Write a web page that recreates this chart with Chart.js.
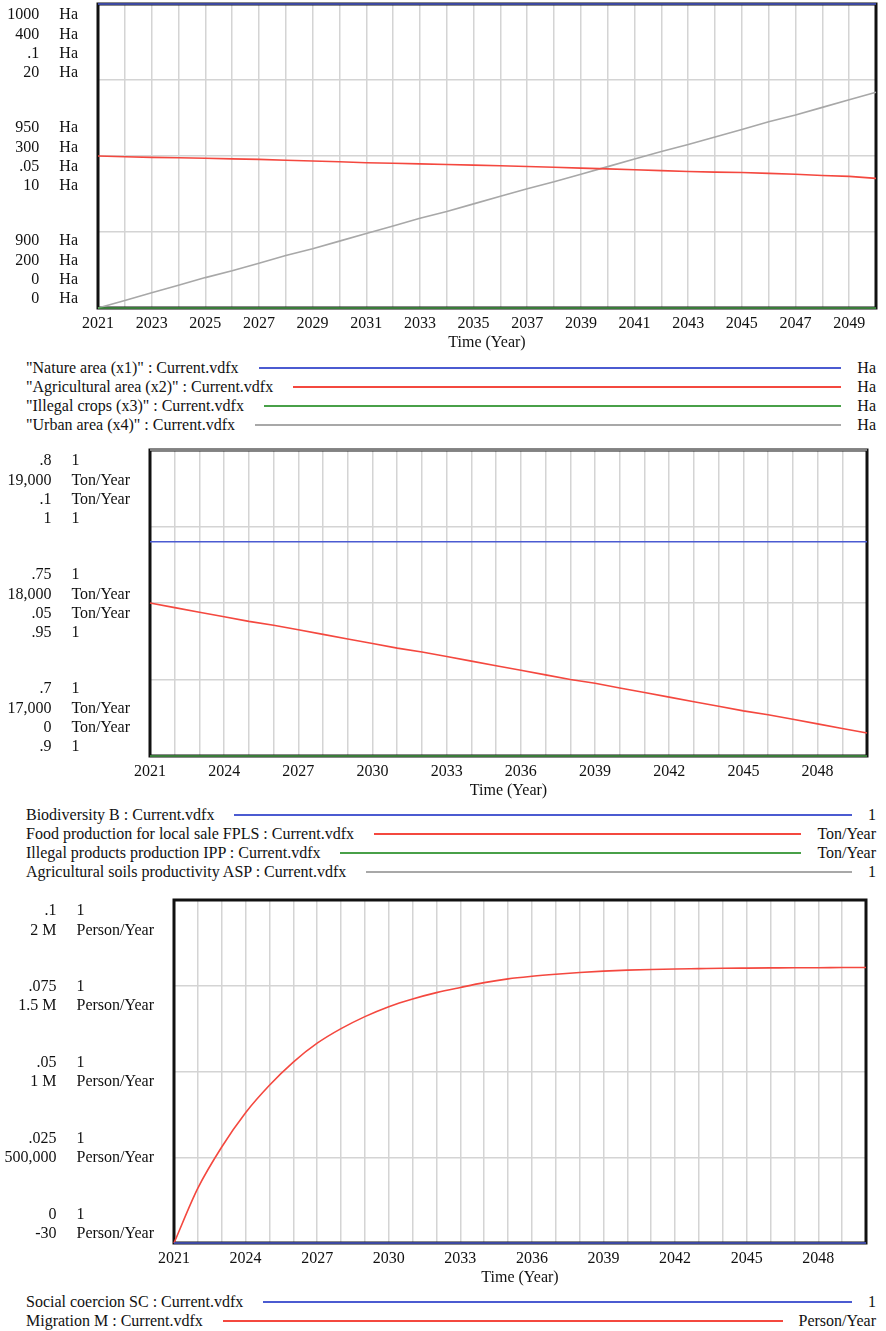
<!DOCTYPE html>
<html>
<head>
<meta charset="utf-8">
<script src="https://cdn.jsdelivr.net/npm/chart.js@4.4.1/dist/chart.umd.min.js"></script>
<style>
  body { margin: 0; background: #fff; width: 886px; height: 1331px; position: relative; overflow: hidden;
         font-family: "Liberation Serif", "Times New Roman", serif; color: #111; }
  canvas { position: absolute; left: 0; }
  .leg { position: absolute; left: 26px; right: 10px; height: 19px; display: flex; align-items: center;
         font-size: 16px; line-height: 19px; white-space: nowrap; }
  .leg .ln { flex: 1; height: 2px; margin: 0 16px 0 20px; }
</style>
</head>
<body>
<canvas id="c1" width="886" height="352" style="top:0px"></canvas>
<div id="leg1"></div>
<canvas id="c2" width="886" height="370" style="top:430px"></canvas>
<div id="leg2"></div>
<canvas id="c3" width="886" height="407" style="top:880px"></canvas>
<div id="leg3"></div>
<script>
const FONT = '"Liberation Serif", "Times New Roman", serif'
const BLUE = '#4b5bd1', RED = '#f4483f', GREEN = '#48a048', GRAY = '#a8a8a8'

const years = [2021, 2022, 2023, 2024, 2025, 2026, 2027, 2028, 2029, 2030,
  2031, 2032, 2033, 2034, 2035, 2036, 2037, 2038, 2039, 2040,
  2041, 2042, 2043, 2044, 2045, 2046, 2047, 2048, 2049, 2050]
const xLabelsOdd = ['2021', '2023', '2025', '2027', '2029', '2031', '2033', '2035', '2037', '2039', '2041', '2043', '2045', '2047', '2049']
const xLabelsThree = ['2021', '2024', '2027', '2030', '2033', '2036', '2039', '2042', '2045', '2048']

// chart 1 - land use (Ha)
const natureArea = [1000, 1000, 1000, 1000, 1000, 1000, 1000, 1000, 1000, 1000,
  1000, 1000, 1000, 1000, 1000, 1000, 1000, 1000, 1000, 1000,
  1000, 1000, 1000, 1000, 1000, 1000, 1000, 1000, 1000, 1000]
const agriArea = [300, 299.5, 299.1, 298.8, 298.5, 298.1, 297.8, 297.2, 296.7, 296.2,
  295.6, 295.2, 294.8, 294.4, 294.0, 293.6, 293.1, 292.6, 292.0, 291.5,
  291.0, 290.4, 289.8, 289.4, 289.1, 288.6, 288.0, 287.2, 286.6, 285.3]
const illegalCrops = [0, 0, 0, 0, 0, 0, 0, 0, 0, 0, 0, 0, 0, 0, 0,
  0, 0, 0, 0, 0, 0, 0, 0, 0, 0, 0, 0, 0, 0, 0]
const urbanArea = [0, 0.5, 1.0, 1.5, 2.0, 2.45, 2.95, 3.45, 3.9, 4.4,
  4.9, 5.4, 5.9, 6.35, 6.85, 7.35, 7.85, 8.3, 8.8, 9.3,
  9.8, 10.3, 10.75, 11.25, 11.75, 12.25, 12.7, 13.2, 13.7, 14.2]
const natureTicks = ['1000', '950', '900']
const agriTicks = ['400', '300', '200']
const illegalCropTicks = ['.1', '.05', '0']
const urbanTicks = ['20', '10', '0']

// chart 2 - production
const biodiversity = [0.77, 0.77, 0.77, 0.77, 0.77, 0.77, 0.77, 0.77, 0.77, 0.77,
  0.77, 0.77, 0.77, 0.77, 0.77, 0.77, 0.77, 0.77, 0.77, 0.77,
  0.77, 0.77, 0.77, 0.77, 0.77, 0.77, 0.77, 0.77, 0.77, 0.77]
const foodProduction = [18000, 17970, 17940, 17910, 17880, 17855, 17825, 17795, 17765, 17735,
  17705, 17680, 17650, 17620, 17590, 17560, 17530, 17500, 17475, 17445,
  17415, 17385, 17355, 17325, 17295, 17270, 17240, 17210, 17180, 17150]
const illegalProducts = [0, 0, 0, 0, 0, 0, 0, 0, 0, 0, 0, 0, 0, 0, 0,
  0, 0, 0, 0, 0, 0, 0, 0, 0, 0, 0, 0, 0, 0, 0]
const soilProductivity = [1, 1, 1, 1, 1, 1, 1, 1, 1, 1, 1, 1, 1, 1, 1,
  1, 1, 1, 1, 1, 1, 1, 1, 1, 1, 1, 1, 1, 1, 1]
const bioTicks = ['.8', '.75', '.7']
const foodTicks = ['19,000', '18,000', '17,000']
const illegalProdTicks = ['.1', '.05', '0']
const soilTicks = ['1', '.95', '.9']

// chart 3 - migration
const socialCoercion = [0, 0, 0, 0, 0, 0, 0, 0, 0, 0, 0, 0, 0, 0, 0,
  0, 0, 0, 0, 0, 0, 0, 0, 0, 0, 0, 0, 0, 0, 0]
const migration = [0, 320000, 560000, 760000, 920000, 1055000, 1165000, 1250000, 1320000, 1378000,
  1423000, 1460000, 1490000, 1518000, 1540000, 1555000, 1567000, 1577000, 1585000, 1591000,
  1595000, 1598000, 1600000, 1602000, 1603000, 1604000, 1605000, 1605000, 1606000, 1606000]
const coercionTicks = ['.1', '.075', '.05', '.025', '0']
const migrationTicks = ['2 M', '1.5 M', '1 M', '500,000', '-30']

// black frame under the series, like Vensim
const frame = {
  id: 'frame',
  beforeDatasetsDraw(chart) {
    const { ctx, chartArea: a } = chart
    ctx.save()
    ctx.strokeStyle = '#111'
    ctx.lineWidth = 3
    ctx.strokeRect(a.left, a.top, a.right - a.left, a.bottom - a.top)
    ctx.restore()
  }
}

// stacked value / unit columns at the left of the plot
const yLabels = {
  id: 'yLabels',
  afterDraw(chart, args, opts) {
    const { ctx, chartArea: { top, bottom, left } } = chart
    const cols = opts.cols
    ctx.save()
    ctx.font = '16px ' + FONT
    ctx.fillStyle = '#111'
    ctx.textBaseline = 'middle'
    const unitW = Math.max(...cols.map(c => ctx.measureText(c.unit).width))
    const unitX = left - 20 - unitW
    const valX = unitX - 20
    const lh = 19.3
    const span = lh * (cols.length - 1)
    const n = cols[0].ticks.length
    const first = top + 11 + span / 2
    const last = bottom - 9 - span / 2
    for (let g = 0; g < n; g++) {
      const cy = first + (last - first) * g / (n - 1)
      cols.forEach((c, i) => {
        const y = cy - span / 2 + i * lh
        ctx.textAlign = 'right'
        ctx.fillText(c.ticks[g], valX, y)
        ctx.textAlign = 'left'
        ctx.fillText(c.unit, unitX, y)
      })
    }
    ctx.restore()
  }
}

function makeChart(id, o) {
  const scales = {
    x: {
      type: 'linear', min: 2021, max: 2050,
      afterFit: s => { s.height = 44 },
      ticks: {
        stepSize: 1, autoSkip: false, maxRotation: 0, padding: 6, color: '#111',
        font: { family: FONT, size: 16 },
        callback: v => o.xLabels.includes(String(v)) ? String(v) : ''
      },
      grid: { color: '#d4d4d4', lineWidth: 1.5, drawTicks: false },
      border: { display: false },
      title: { display: true, text: 'Time (Year)', color: '#111', font: { family: FONT, size: 16 }, padding: 0 }
    },
    grid: {
      position: 'left', min: 0, max: 4,
      afterFit: s => { s.width = 0 },
      ticks: { display: false, stepSize: 1 },
      grid: { color: '#d4d4d4', lineWidth: 1.5, drawTicks: false },
      border: { display: false }
    }
  }
  o.series.forEach((sr, i) => {
    scales['y' + i] = { display: false, min: sr.range[0], max: sr.range[1] }
  })
  return new Chart(document.getElementById(id), {
    type: 'line',
    data: {
      datasets: o.series.map((sr, i) => ({
        label: sr.name,
        data: years.map((yr, k) => ({ x: yr, y: sr.values[k] })),
        yAxisID: 'y' + i,
        borderColor: sr.color,
        borderWidth: 1.6,
        pointRadius: 0,
        fill: false,
        cubicInterpolationMode: sr.smooth ? 'monotone' : 'default',
        clip: 4
      }))
    },
    options: {
      responsive: false,
      animation: false,
      layout: { padding: o.padding },
      scales,
      plugins: {
        legend: { display: false },
        tooltip: { enabled: false },
        yLabels: { cols: o.series.map(sr => ({ ticks: sr.ticks, unit: sr.unit })) }
      }
    },
    plugins: [frame, yLabels]
  })
}

function makeLegend(id, series, rowTops) {
  const box = document.getElementById(id)
  series.forEach((sr, i) => {
    const row = document.createElement('div')
    row.className = 'leg'
    row.style.top = rowTops[i] + 'px'
    const t = document.createElement('span')
    t.textContent = sr.name + ' : Current.vdfx'
    const ln = document.createElement('div')
    ln.className = 'ln'
    ln.style.background = sr.color
    const u = document.createElement('span')
    u.textContent = sr.unit
    row.append(t, ln, u)
    box.appendChild(row)
  })
}

const series1 = [
  { name: '"Nature area (x1)"', values: natureArea, range: [900, 1000], ticks: natureTicks, unit: 'Ha', color: BLUE },
  { name: '"Agricultural area (x2)"', values: agriArea, range: [200, 400], ticks: agriTicks, unit: 'Ha', color: RED },
  { name: '"Illegal crops (x3)"', values: illegalCrops, range: [0, 0.1], ticks: illegalCropTicks, unit: 'Ha', color: GREEN },
  { name: '"Urban area (x4)"', values: urbanArea, range: [0, 20], ticks: urbanTicks, unit: 'Ha', color: GRAY }
]
const series2 = [
  { name: 'Biodiversity B', values: biodiversity, range: [0.7, 0.8], ticks: bioTicks, unit: '1', color: BLUE },
  { name: 'Food production for local sale FPLS', values: foodProduction, range: [17000, 19000], ticks: foodTicks, unit: 'Ton/Year', color: RED },
  { name: 'Illegal products production IPP', values: illegalProducts, range: [0, 0.1], ticks: illegalProdTicks, unit: 'Ton/Year', color: GREEN },
  { name: 'Agricultural soils productivity ASP', values: soilProductivity, range: [0.9, 1], ticks: soilTicks, unit: '1', color: GRAY }
]
const series3 = [
  { name: 'Social coercion SC', values: socialCoercion, range: [0, 0.1], ticks: coercionTicks, unit: '1', color: BLUE },
  { name: 'Migration M', values: migration, range: [-30, 2000000], ticks: migrationTicks, unit: 'Person/Year', color: RED, smooth: true }
]

makeChart('c1', { series: series1, xLabels: xLabelsOdd, padding: { left: 98, right: 10, top: 4, bottom: 0 } })
makeChart('c2', { series: series2, xLabels: xLabelsThree, padding: { left: 150, right: 19, top: 20, bottom: 0 } })
makeChart('c3', { series: series3, xLabels: xLabelsThree, padding: { left: 174, right: 20, top: 20, bottom: 0 } })

makeLegend('leg1', series1, [358, 377, 396, 415])
makeLegend('leg2', series2, [805, 824, 843, 862])
makeLegend('leg3', series3, [1292, 1311])
</script>
</body>
</html>
